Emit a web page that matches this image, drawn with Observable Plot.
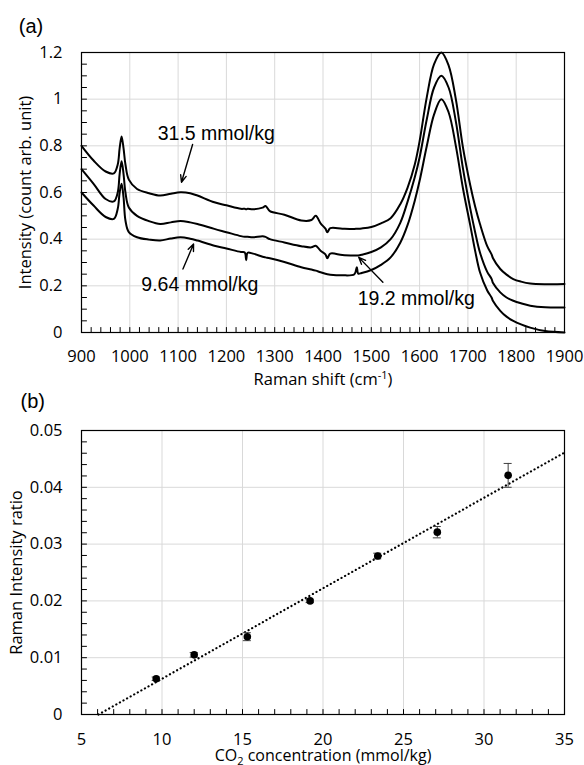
<!DOCTYPE html>
<html><head><meta charset="utf-8">
<script src="https://cdn.jsdelivr.net/npm/d3@7"></script>
<script src="https://cdn.jsdelivr.net/npm/@observablehq/plot@0.6"></script>
<style>
html,body{margin:0;padding:0;background:#fff;}
#fig svg{display:block;}
</style></head><body><div id="fig"></div>
<script>
// ---------- Panel (a): Raman spectra ----------
const ramanShift = [900, 925, 950, 967, 975, 979, 983, 987, 991, 998,
  1015, 1040, 1063, 1085, 1105, 1125, 1140, 1175, 1200, 1230,
  1238, 1241, 1244, 1255, 1275, 1281, 1290, 1320, 1355, 1376,
  1385, 1395, 1405, 1409, 1415, 1440, 1465, 1470, 1473, 1480,
  1500, 1520, 1540, 1560, 1575, 1590, 1600, 1615, 1630, 1645,
  1660, 1675, 1690, 1705, 1715, 1725, 1740, 1749, 1752, 1767,
  1780, 1794, 1810, 1829, 1860, 1900];
const spec315 = [0.80, 0.737, 0.69, 0.682, 0.72, 0.79, 0.84, 0.79, 0.72, 0.655,
  0.615, 0.597, 0.587, 0.595, 0.601, 0.597, 0.587, 0.558, 0.545, 0.53,
  0.53, 0.528, 0.53, 0.528, 0.535, 0.542, 0.52, 0.505, 0.48, 0.482,
  0.50, 0.468, 0.445, 0.43, 0.447, 0.445, 0.444, 0.445, 0.445, 0.446,
  0.452, 0.468, 0.49, 0.55, 0.62, 0.72, 0.82, 1.01, 1.15, 1.2,
  1.145, 1.0, 0.79, 0.63, 0.54, 0.465, 0.37, 0.335, 0.318, 0.272,
  0.248, 0.229, 0.218, 0.21, 0.207, 0.208];
const spec192 = [0.70, 0.637, 0.572, 0.562, 0.60, 0.68, 0.734, 0.68, 0.60, 0.536,
  0.50, 0.477, 0.465, 0.472, 0.478, 0.472, 0.465, 0.444, 0.43, 0.413,
  0.41, 0.41, 0.41, 0.408, 0.413, 0.41, 0.40, 0.386, 0.37, 0.365,
  0.372, 0.35, 0.335, 0.318, 0.338, 0.332, 0.33, 0.33, 0.33, 0.333,
  0.345, 0.365, 0.40, 0.47, 0.56, 0.665, 0.75, 0.915, 1.05, 1.10,
  1.05, 0.905, 0.70, 0.53, 0.43, 0.343, 0.26, 0.23, 0.212, 0.172,
  0.15, 0.136, 0.125, 0.115, 0.108, 0.107];
const spec964 = [0.60, 0.544, 0.495, 0.487, 0.53, 0.60, 0.637, 0.58, 0.48, 0.43,
  0.408, 0.398, 0.394, 0.403, 0.408, 0.402, 0.394, 0.372, 0.36, 0.345,
  0.343, 0.31, 0.342, 0.338, 0.325, 0.322, 0.318, 0.302, 0.28, 0.27,
  0.265, 0.258, 0.252, 0.25, 0.248, 0.245, 0.25, 0.28, 0.252, 0.255,
  0.268, 0.29, 0.322, 0.385, 0.46, 0.565, 0.65, 0.80, 0.935, 1.0,
  0.944, 0.80, 0.615, 0.458, 0.35, 0.258, 0.18, 0.15, 0.135, 0.093,
  0.068, 0.05, 0.035, 0.021, 0.006, 0.0];
const seriesNames = ["31.5 mmol/kg", "19.2 mmol/kg", "9.64 mmol/kg"];

// annotation labels and arrows (data coordinates)
const annLabel = ["31.5 mmol/kg", "9.64 mmol/kg", "19.2 mmol/kg"];
const annLabelX = [1179, 1145, 1593];
const annLabelY = [0.826, 0.179, 0.119];
const annArrowX1 = [1130, 1110, 1524];
const annArrowY1 = [0.806, 0.272, 0.215];
const annArrowX2 = [1107, 1132, 1474];
const annArrowY2 = [0.644, 0.379, 0.322];

const xTicksA = [900, 1000, 1100, 1200, 1300, 1400, 1500, 1600, 1700, 1800, 1900];
const yTicksA = [0, 0.2, 0.4, 0.6, 0.8, 1, 1.2];
const xMinorA = d3.range(900, 1901, 20);
const yMinorA = d3.range(0, 25).map(i => i * 0.05);

// ---------- Panel (b): calibration ----------
const co2Conc = [9.64, 12.0, 15.3, 19.2, 23.4, 27.1, 31.5];
const ramanRatio = [0.0063, 0.0105, 0.0137, 0.0200, 0.0279, 0.0321, 0.0421];
const ratioErr = [0.0003, 0.0004, 0.0007, 0.0003, 0.0005, 0.0010, 0.0021];

const xTicksB = [5, 10, 15, 20, 25, 30, 35];
const yTicksB = [0, 0.01, 0.02, 0.03, 0.04, 0.05];
const xMinorB = d3.range(5, 36, 1);
const yMinorB = d3.range(0, 26).map(i => i * 0.002);

// ---------- build tables ----------
const spectra = [];
[spec315, spec192, spec964].forEach((arr, k) =>
  arr.forEach((v, i) => spectra.push({shift: ramanShift[i], I: v, s: seriesNames[k]})));
const anns = annLabel.map((t, i) => ({t, x: annLabelX[i], y: annLabelY[i],
  x1: annArrowX1[i], y1: annArrowY1[i], x2: annArrowX2[i], y2: annArrowY2[i]}));
const pts = co2Conc.map((c, i) => ({c, r: ramanRatio[i], e: ratioErr[i]}));

// least-squares trend line computed from the data
const mx = d3.mean(co2Conc), my = d3.mean(ramanRatio);
const slope = d3.sum(co2Conc, (x, i) => (x - mx) * (ramanRatio[i] - my)) / d3.sum(co2Conc, x => (x - mx) ** 2);
const icpt = my - slope * mx;
const trend = [{x: -icpt / slope, y: 0}, {x: 35, y: slope * 35 + icpt}];

// segments (grid lines / tick marks) as paths
const segsV = (vals, y0, y1) => vals.flatMap(v => [{x: v, y: y0, k: v}, {x: v, y: y1, k: v}]);
const segsH = (vals, x0, x1) => vals.flatMap(v => [{x: x0, y: v, k: v}, {x: x1, y: v, k: v}]);
const segLine = (data, stroke) => Plot.line(data, {x: "x", y: "y", z: "k", stroke, strokeWidth: 1, curve: "linear"});

const W = 584;
const baseStyle = {fontFamily: "'Open Sans', sans-serif", fontSize: "16.5px", color: "#000", background: "#fff", overflow: "visible"};
const fmt = d => String(+d.toFixed(3));
const armA = "'Liberation Sans', Arial, sans-serif";
const GRID = "#d9d9d9", TICKLEN = 5;

// Panel (a)
const mA = {top: 52, right: 20, bottom: 48, left: 81}, HA = 380;
const fhA = HA - mA.top - mA.bottom, fwA = W - mA.left - mA.right;
const xDomA = [900, 1900], yDomA = [0, 1.2];
const tyA = (yDomA[1] - yDomA[0]) * TICKLEN / fhA, txA = (xDomA[1] - xDomA[0]) * TICKLEN / fwA;
const plotA = Plot.plot({
  width: W, height: HA,
  marginTop: mA.top, marginRight: mA.right, marginBottom: mA.bottom, marginLeft: mA.left,
  style: baseStyle,
  x: {domain: xDomA},
  y: {domain: yDomA},
  marks: [
    segLine(segsV(xTicksA, yDomA[0], yDomA[1]), GRID),
    segLine(segsH(yTicksA, xDomA[0], xDomA[1]), GRID),
    Plot.axisX(xTicksA, {tickSize: 0, tickPadding: 18, tickFormat: d => String(d), label: null}),
    Plot.axisY(yTicksA, {tickSize: 0, tickPadding: 19, tickFormat: fmt, label: null}),
    Plot.line(spectra, {x: "shift", y: "I", z: "s", stroke: "#000", strokeWidth: 2, curve: "catmull-rom"}),
    segLine(segsV(xMinorA, yDomA[0], yDomA[0] + tyA), "#000"),
    segLine(segsH(yMinorA, xDomA[0], xDomA[0] + txA), "#000"),
    Plot.frame({stroke: "#000", fill: "none", strokeWidth: 1.2}),
    Plot.arrow(anns, {x1: "x1", y1: "y1", x2: "x2", y2: "y2", stroke: "#000", strokeWidth: 1.4, headLength: 8, headAngle: 45}),
    Plot.text(anns, {x: "x", y: "y", text: "t", lineAnchor: "bottom", textAnchor: "middle", fontFamily: armA, fontSize: 19.5, fill: "#000"}),
    Plot.text(["Intensity (count arb. unit)"], {text: d => d, frameAnchor: "left", textAnchor: "middle", rotate: -90, dx: -56, lineAnchor: "middle", fill: "#000"}),
    Plot.text(["Raman shift (cm-1)"], {text: d => d, frameAnchor: "bottom", textAnchor: "middle", dy: 52, lineAnchor: "bottom", fill: "#000"}),
    Plot.text(["(a)"], {text: d => d, frameAnchor: "top-left", textAnchor: "start", lineAnchor: "bottom", dx: -62.7, dy: -19.4, fontFamily: armA, fontSize: 20, fill: "#000"})
  ]
});

// Panel (b)
const mB = {top: 50, right: 20, bottom: 51, left: 81}, HB = 385;
const fhB = HB - mB.top - mB.bottom, fwB = W - mB.left - mB.right;
const xDomB = [5, 35], yDomB = [0, 0.05];
const tyB = (yDomB[1] - yDomB[0]) * TICKLEN / fhB, txB = (xDomB[1] - xDomB[0]) * TICKLEN / fwB;
const plotB = Plot.plot({
  width: W, height: HB,
  marginTop: mB.top, marginRight: mB.right, marginBottom: mB.bottom, marginLeft: mB.left,
  style: baseStyle,
  x: {domain: xDomB},
  y: {domain: yDomB},
  marks: [
    segLine(segsV(xTicksB, yDomB[0], yDomB[1]), GRID),
    segLine(segsH(yTicksB, xDomB[0], xDomB[1]), GRID),
    Plot.axisX(xTicksB, {tickSize: 0, tickPadding: 19, tickFormat: d => String(d), label: null}),
    Plot.axisY(yTicksB, {tickSize: 0, tickPadding: 19, tickFormat: fmt, label: null}),
    segLine(segsV(xMinorB, yDomB[0], yDomB[0] + tyB), "#000"),
    segLine(segsH(yMinorB, xDomB[0], xDomB[0] + txB), "#000"),
    Plot.frame({stroke: "#000", fill: "none", strokeWidth: 1.2}),
    Plot.line(trend, {x: "x", y: "y", stroke: "#000", strokeWidth: 2.2, strokeDasharray: "0.1,4", strokeLinecap: "round"}),
    Plot.ruleX(pts, {x: "c", y1: d => d.r - d.e, y2: d => d.r + d.e, stroke: "#404040", strokeWidth: 1}),
    Plot.ruleY(pts, {y: d => d.r + d.e, x1: "c", x2: "c", insetLeft: -4, insetRight: -4, stroke: "#404040", strokeWidth: 1}),
    Plot.ruleY(pts, {y: d => d.r - d.e, x1: "c", x2: "c", insetLeft: -4, insetRight: -4, stroke: "#404040", strokeWidth: 1}),
    Plot.dot(pts, {x: "c", y: "r", r: 3.8, fill: "#000", stroke: "none"}),
    Plot.text(["Raman Intensity ratio"], {text: d => d, frameAnchor: "left", textAnchor: "middle", rotate: -90, dx: -65, lineAnchor: "middle", fill: "#000"}),
    Plot.text(["CO2 concentration (mmol/kg)"], {text: d => d, frameAnchor: "bottom", textAnchor: "middle", dy: 46.5, lineAnchor: "bottom", fontSize: 16, fill: "#000"}),
    Plot.text(["(b)"], {text: d => d, frameAnchor: "top-left", textAnchor: "start", lineAnchor: "bottom", dx: -61, dy: -22.7, fontFamily: armA, fontSize: 20, fill: "#000"})
  ]
});

const fig = document.getElementById("fig");
fig.appendChild(plotA);
fig.appendChild(plotB);

// superscript / subscript in axis titles
d3.select(fig).selectAll("text").each(function () {
  const s = this.textContent;
  const t = d3.select(this);
  if (s === "Raman shift (cm-1)") {
    t.text(null);
    t.append("tspan").text("Raman shift (cm");
    t.append("tspan").attr("dy", -6).attr("font-size", 11).text("-1");
    t.append("tspan").attr("dy", 6).text(")");
  } else if (s === "CO2 concentration (mmol/kg)") {
    t.text(null);
    t.append("tspan").text("CO");
    t.append("tspan").attr("dy", 3.5).attr("font-size", 11).text("2");
    t.append("tspan").attr("dy", -3.5).text(" concentration (mmol/kg)");
  }
});
</script>
</body></html>
